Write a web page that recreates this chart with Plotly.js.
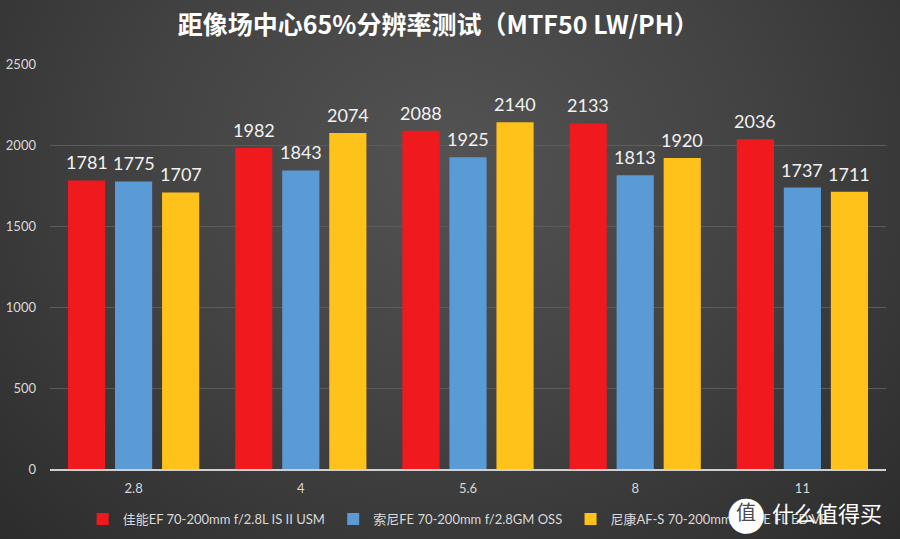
<!DOCTYPE html>
<html>
<head>
<meta charset="utf-8">
<script src="https://cdn.plot.ly/plotly-3.0.1.min.js"></script>
<style>
  html, body { margin:0; padding:0; }
  body { width:900px; height:539px; background: radial-gradient(ellipse at 50% 30%, #535353 0%, #424242 50%, #2c2c2c 100%); }
  #chart { width:900px; height:539px; }
</style>
</head>
<body>
<div id="chart"></div>
<script>
const apertures = ["2.8", "4", "5.6", "8", "11"];
const canonName = "佳能EF 70-200mm f/2.8L IS II USM";
const sonyName = "索尼FE 70-200mm f/2.8GM OSS";
const nikonName = "尼康AF-S 70-200mm f/2.8E FL ED VR";
const canonValues = [1781, 1982, 2088, 2133, 2036];
const sonyValues = [1775, 1843, 1925, 1813, 1737];
const nikonValues = [1707, 2074, 2140, 1920, 1711];
const watermarkLogo = "值";
const watermarkText = "什么值得买";

const fontFam = "Lato, 'Noto Sans CJK SC', sans-serif";
const pad = "\u00a0";
function series(name, y, color) {
  return {
    type: 'bar', name: name + pad, x: apertures, y: y,
    marker: { color: color, line: { width: 0 } },
    hoverinfo: 'none'
  };
}
const seriesList = [
  [canonName, canonValues, '#f01a1e'],
  [sonyName, sonyValues, '#5b9bd5'],
  [nikonName, nikonValues, '#ffc21a']
];
const data = seriesList.map(s => series(s[0], s[1], s[2]));

const bargap = 0.156;
const slot = (1 - bargap) / seriesList.length;
const labelAnn = [];
seriesList.forEach((s, si) => {
  s[1].forEach((v, ci) => {
    labelAnn.push({
      xref: 'x', yref: 'y', x: ci + (si - 1) * slot, y: v,
      text: String(v), showarrow: false, yanchor: 'bottom', yshift: 5,
      font: { color: '#f2f2f2', size: 18, family: fontFam }
    });
  });
});

const layout = {
  width: 900, height: 539,
  paper_bgcolor: 'rgba(0,0,0,0)', plot_bgcolor: 'rgba(0,0,0,0)',
  margin: { l: 50, r: 14, t: 64, b: 70 },
  barmode: 'group', bargap: bargap, bargroupgap: 0.21,
  title: {
    text: '<b>距像场中心65%分辨率测试（MTF50 LW/PH）</b>',
    font: { family: "'Noto Sans CJK SC', sans-serif", size: 25, color: '#ffffff' },
    x: 0.487, xanchor: 'center', yref: 'container', y: 0.953, yanchor: 'middle'
  },
  font: { family: fontFam, color: '#d9d9d9' },
  xaxis: {
    type: 'category', showgrid: false, zeroline: false,
    showline: true, linecolor: '#d0d0d0', linewidth: 1.5,
    tickfont: { size: 13, color: '#d9d9d9' }, ticks: '', ticklen: 0,
    ticklabelstandoff: 7
  },
  yaxis: {
    range: [0, 2500], dtick: 500, showgrid: true, gridcolor: '#5c5c5c', gridwidth: 1,
    zeroline: false, showline: false, ticks: '',
    tickfont: { size: 13, color: '#d9d9d9' }, ticklabelstandoff: 13
  },
  showlegend: true,
  legend: {
    orientation: 'h', x: 0.49, xanchor: 'center', yref: 'container', y: 0.037, yanchor: 'middle',
    font: { size: 13, color: '#d9d9d9', family: fontFam },
    itemwidth: 30, traceorder: 'normal', bgcolor: 'rgba(0,0,0,0)'
  },
  annotations: labelAnn.concat([
    { text: '●', xref: 'paper', yref: 'paper', x: 0.8325, y: -0.106, xanchor: 'center', yanchor: 'middle',
      showarrow: false, font: { family: "'DejaVu Sans'", size: 46, color: '#ffffff' } },
    { text: watermarkLogo, xref: 'paper', yref: 'paper', x: 0.8325, y: -0.106, xanchor: 'center', yanchor: 'middle',
      showarrow: false, font: { family: "'Noto Sans CJK SC'", size: 20, color: '#4a4a4a' } },
    { text: watermarkText, xref: 'paper', yref: 'paper', x: 0.8612, xanchor: 'left', y: -0.106, yanchor: 'middle',
      showarrow: false, font: { family: "'Noto Sans CJK SC'", size: 22, color: '#ffffff' } }
  ])
};
Plotly.newPlot('chart', data, layout, { displayModeBar: false, staticPlot: true });
</script>
</body>
</html>
